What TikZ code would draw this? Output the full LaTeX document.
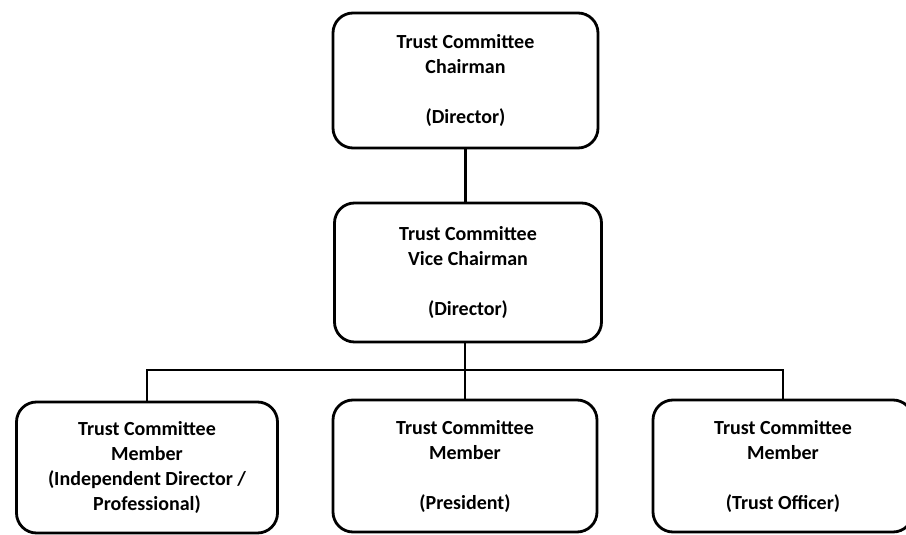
\documentclass[tikz,border=0pt]{standalone}
\usepackage{fontspec}
\setmainfont{Carlito}
\begin{document}
\begin{tikzpicture}[x=1pt,y=-1pt,
  box/.style={draw=black,line width=2.8pt,rounded corners=20pt,align=center,
    font=\bfseries\fontsize{20}{25}\selectfont,inner sep=0pt},
  link/.style={draw=black,line width=2.8pt}]
\useasboundingbox (0,0) rectangle (906,535);
\node[box,minimum width=265pt,minimum height=135pt] (top) at (465.5,80.5)
  {Trust Committee\\Chairman\\[25pt](Director)};
\node[box,minimum width=267pt,minimum height=139pt] (mid) at (468,272.5)
  {Trust Committee\\Vice Chairman\\[25pt](Director)};
\node[box,minimum width=261pt,minimum height=131pt] (b1) at (147,467.5)
  {Trust Committee\\Member\\(Independent Director /\\Professional)};
\node[box,minimum width=264pt,minimum height=132pt] (b2) at (465,466)
  {Trust Committee\\Member\\[25pt](President)};
\node[box,minimum width=260pt,minimum height=132pt] (b3) at (783,466)
  {Trust Committee\\Member\\[25pt](Trust Officer)};
\coordinate (bus) at (465,370);
\draw[link] (top.south) -- (top.south |- mid.north);
\draw[link] (mid.south -| bus) -- (bus);
\draw[link] (b1.north) -- (b1.north |- bus) -- (b3.north |- bus) -- (b3.north);
\draw[link] (bus) -- (b2.north);
\end{tikzpicture}
\end{document}
